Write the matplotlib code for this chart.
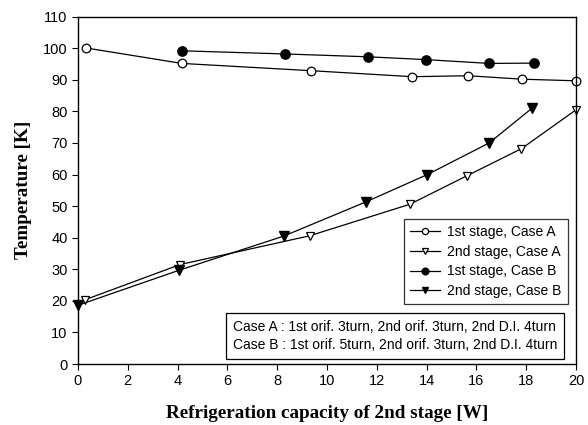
import matplotlib
matplotlib.use("Agg")
import matplotlib.pyplot as plt

# Data
x_1A = [0.32, 4.17, 9.36, 13.43, 15.68, 17.85, 20.0]
y_1A = [100.1, 95.2, 92.9, 91.0, 91.3, 90.2, 89.7]
x_2A = [0.3, 4.1, 9.3, 13.33, 15.64, 17.81, 20.0]
y_2A = [20.4, 31.5, 40.6, 50.6, 59.7, 68.2, 80.5]
x_1B = [4.17, 8.3, 11.64, 13.99, 16.51, 18.32]
y_1B = [99.2, 98.2, 97.3, 96.4, 95.2, 95.3]
x_2B = [0.0, 4.06, 8.26, 11.55, 14.03, 16.51, 18.23]
y_2B = [18.6, 29.7, 40.5, 51.3, 60.0, 70.0, 81.0]
labels = ["1st stage, Case A", "2nd stage, Case A", "1st stage, Case B", "2nd stage, Case B"]
case_text = ("Case A : 1st orif. 3turn, 2nd orif. 3turn, 2nd D.I. 4turn\n"
             "Case B : 1st orif. 5turn, 2nd orif. 3turn, 2nd D.I. 4turn")

plt.rcParams['font.family'] = ['Liberation Sans', 'DejaVu Sans']

fig = plt.figure(figsize=(5.88, 4.25), dpi=100)
ax = fig.add_axes([78/588, 1-364/425, (576-78)/588, (364-16.7)/425])

ms = 6.2
lw = 0.9
ax.plot(x_1A, y_1A, '-o', color='black', mfc='white', mec='black', ms=ms, lw=lw, mew=0.9, label=labels[0], clip_on=False)
ax.plot(x_2A, y_2A, '-v', color='black', mfc='white', mec='black', ms=ms, lw=lw, mew=0.9, label=labels[1], clip_on=False)
ax.plot(x_1B, y_1B, '-o', color='black', mfc='black', mec='black', ms=ms+0.5, lw=lw, label=labels[2], clip_on=False)
ax.plot(x_2B, y_2B, '-v', color='black', mfc='black', mec='black', ms=ms+0.5, lw=lw, label=labels[3], clip_on=False)

ax.set_xlim(0, 20)
ax.set_ylim(0, 110)
ax.set_xticks(range(0, 21, 2))
ax.set_yticks(range(0, 111, 10))
ax.tick_params(direction='out', length=4, width=0.8, labelsize=10.5)
for s in ax.spines.values():
    s.set_linewidth(1.0)

ax.set_xlabel("Refrigeration capacity of 2nd stage [W]", family='Liberation Serif',
              fontweight='bold', fontsize=13.8, labelpad=12)
ax.set_ylabel("Temperature [K]", family='Liberation Serif', fontweight='bold',
              fontsize=13.8, labelpad=8)

leg = ax.legend(loc='upper right', bbox_to_anchor=((568-78)/498, 1-(219-16.7)/347.3),
                frameon=True, fancybox=False, edgecolor='black', fontsize=10,
                handlelength=2.2, markerscale=0.72, borderpad=0.45, labelspacing=0.4,
                handletextpad=0.5, borderaxespad=0)
leg.get_frame().set_linewidth(0.9)

ax.text((233-78)/498, 1-(336-16.7)/347.3, case_text, transform=ax.transAxes,
        fontsize=10, va='center', ha='left', linespacing=1.3,
        bbox=dict(boxstyle='square,pad=0.5', fc='white', ec='black', lw=0.9))

fig.savefig("out.png", dpi=100)
